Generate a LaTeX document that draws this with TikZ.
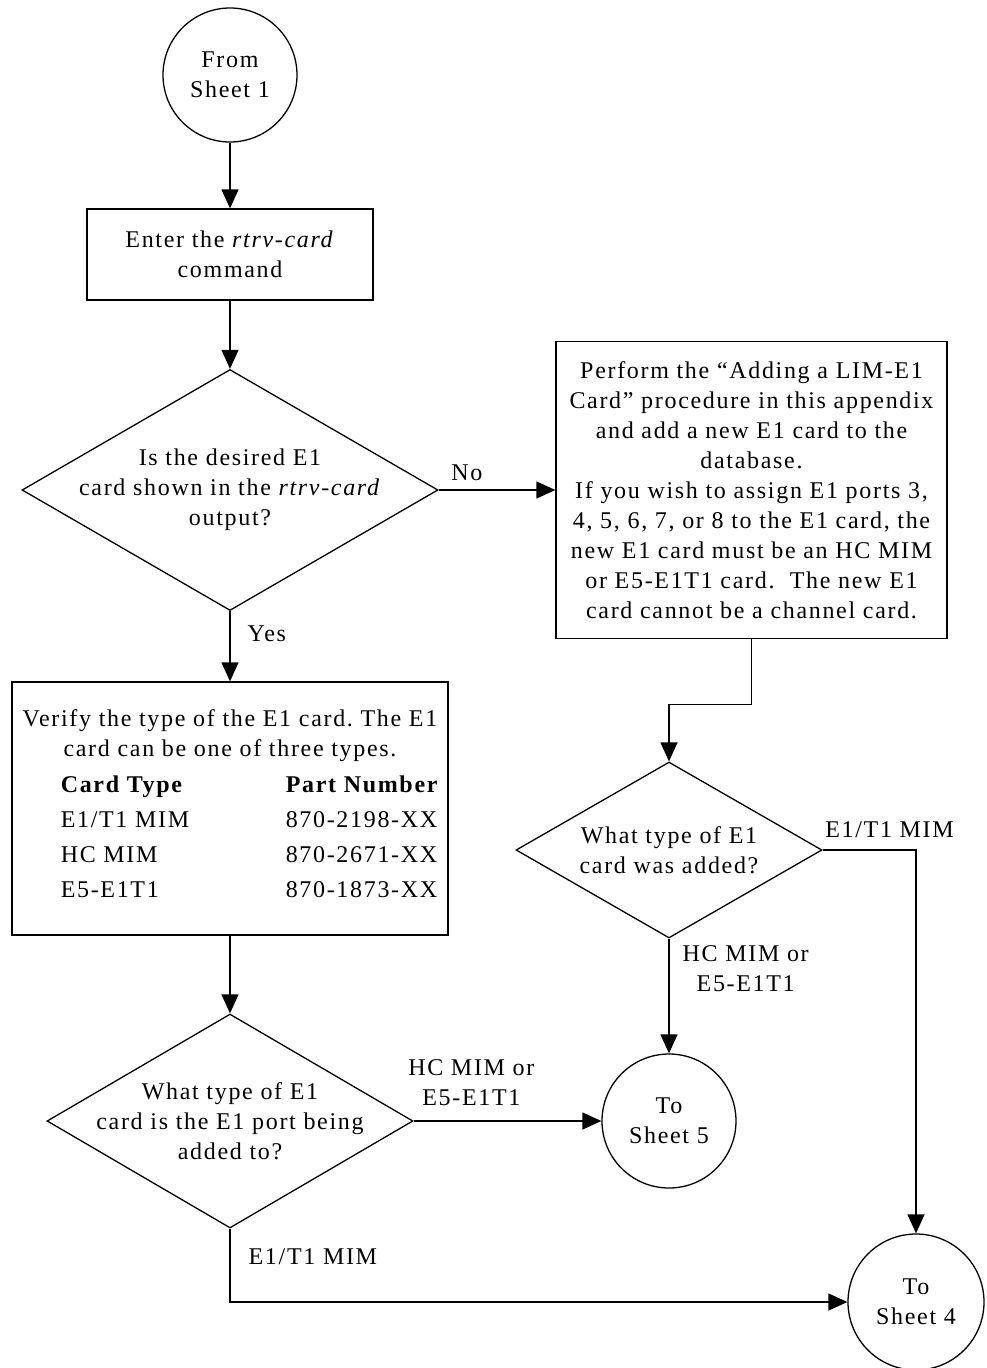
\documentclass[tikz,border=0pt]{standalone}
\usepackage{fontspec}
\setmainfont{Liberation Serif}[LetterSpace=7]
\usetikzlibrary{shapes.geometric, arrows.meta}
\tikzstyle{startstop} = [circle, minimum size=134pt, inner sep=0pt, align=center, draw=black]
\tikzstyle{process} = [rectangle, inner sep=0pt, text centered, align=center, draw=black]
\tikzstyle{decision} = [diamond, inner sep=0pt, draw=black]
\tikzstyle{arrow} = [-{Triangle[length=19pt,width=17pt]}]
\tikzstyle{lbl} = [inner sep=2pt, align=center]
\frenchspacing

\begin{document}
\begin{tikzpicture}[x=1pt, y=-1pt, line width=1.3pt, font=\fontsize{24}{30}\selectfont]
\useasboundingbox (0,0) rectangle (987,1368);

\node (start) [startstop] at (230,75) {From\\Sheet 1};
\node (pro1) [process, minimum width=286pt, minimum height=91pt, below of=start, node distance=179.5pt] {Enter the \textit{rtrv-card}\\command};
\node (dec1) [decision, minimum width=416pt, minimum height=241pt, below of=pro1, node distance=235.5pt,
	label={[align=center]center:Is the desired E1\\card shown in the \textit{rtrv-card}\\output?}] {};
\node (pro2) [process, minimum width=391pt, minimum height=297pt, right of=dec1, node distance=521.5pt] {Perform the “Adding a LIM-E1\\Card” procedure in this appendix\\and add a new E1 card to the\\database.\\If you wish to assign E1 ports 3,\\4, 5, 6, 7, or 8 to the E1 card, the\\new E1 card must be an HC MIM\\or E5-E1T1 card.~ The new E1\\card cannot be a channel card.};
\node (pro3) [process, minimum width=436pt, minimum height=253pt, below of=dec1, node distance=318.5pt] {Verify the type of the E1 card. The E1\\card can be one of three types.\\[6pt]\hspace*{40pt}\renewcommand{\arraystretch}{1.17}\begin{tabular}[t]{@{}p{225pt}@{}l@{}}
	\textbf{Card Type} & \textbf{Part Number}\\
	E1/T1 MIM & 870-2198-XX\\
	HC MIM & 870-2671-XX\\
	E5-E1T1 & 870-1873-XX
	\end{tabular}};
\node (dec3) [decision, minimum width=366pt, minimum height=214pt, below of=pro3, node distance=312.5pt,
	label={[align=center]center:What type of E1\\card is the E1 port being\\added to?}] {};
\node (dec2) [decision, minimum width=306pt, minimum height=176pt,
	label={[align=center]center:What type of E1\\card was added?}] at (669,850) {};
\node (stop1) [startstop] at (dec2 |- dec3) {To\\Sheet 5};
\node (stop2) [startstop, minimum size=136pt] at (916,1302) {To\\Sheet 4};

\draw [arrow] (start) -- (pro1);
\draw [arrow] (pro1) -- (dec1);
\draw [arrow] (dec1) -- node[lbl, pos=0, anchor=south west, xshift=10pt, yshift=7pt] {No} (pro2);
\draw [arrow] (dec1) -- node[lbl, pos=0, anchor=north west, xshift=15pt, yshift=-12pt] {Yes} (pro3);
\draw [arrow] (pro2.south) -- ++(0,65) -| (dec2.north);
\draw [arrow] (dec2) -| node[lbl, pos=0, anchor=south west, yshift=10pt] {E1/T1 MIM} (stop2);
\draw [arrow] (dec2) -- node[lbl, pos=0, anchor=north west, xshift=11pt, yshift=-4pt] {HC MIM or\\E5-E1T1} (stop1);
\draw [arrow] (pro3) -- (dec3);
\draw [arrow] (dec3) -- node[lbl, pos=0, anchor=south west, xshift=-8pt, yshift=13pt] {HC MIM or\\E5-E1T1} (stop1);
\draw [arrow] (dec3) |- node[lbl, pos=0, anchor=north west, xshift=16pt, yshift=-17pt] {E1/T1 MIM} (stop2);

\end{tikzpicture}
\end{document}
